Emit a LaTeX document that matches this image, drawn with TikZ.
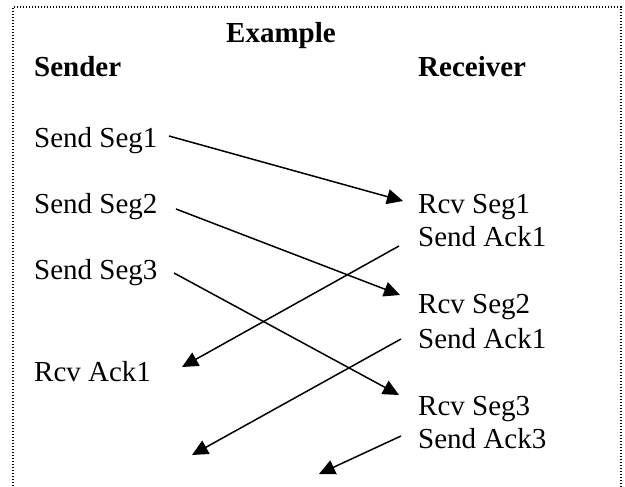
\documentclass[tikz,border=0pt]{standalone}
\usepackage{fontspec}
\setmainfont{Liberation Serif}
\usetikzlibrary{arrows.meta}
\begin{document}
\begin{tikzpicture}[x=1pt,y=-1pt,
  lbl/.style={anchor=base west,inner sep=0pt,font=\fontsize{29}{34}\selectfont},
  hdr/.style={lbl,font=\fontsize{29}{34}\selectfont\bfseries},
  msg/.style={line width=1.5pt,-{Triangle[length=16pt,width=15pt]}},
  frame/.style={line width=1.2pt,dash pattern=on 1.2pt off 1.8pt,black}]
\useasboundingbox (0,0) rectangle (625,487);
\begin{scope}
\clip (0,0) rectangle (625,487);
\draw[frame] (13,495) -- (13,7) -- (621,7) -- (621,495);
\end{scope}
% headings
\node[hdr,anchor=base] (ex) at (281,43) {Example};
\node[hdr] (snd) at (34,77) {Sender};
\node[hdr] (rcv) at (418,77) {Receiver};
% sender column
\node[lbl] (s1) at (34,147) {Send Seg1};
\node[lbl] (s2) at (34,213) {Send Seg2};
\node[lbl] (s3) at (34,279) {Send Seg3};
\node[lbl] (ra1) at (34,381) {Rcv Ack1};
% receiver column
\node[lbl] (r1) at (418,213) {Rcv Seg1};
\node[lbl] (a1) at (418,247) {Send Ack1};
\node[lbl] (r2) at (418,313) {Rcv Seg2};
\node[lbl] (a2) at (418,348) {Send Ack1};
\node[lbl] (r3) at (418,415) {Rcv Seg3};
\node[lbl] (a3) at (418,448) {Send Ack3};
% connector end points
\coordinate (s1o) at (169,136);
\coordinate (r1i) at (403,201);
\coordinate (s2o) at (176,209);
\coordinate (r2i) at (400,295);
\coordinate (s3o) at (174,273);
\coordinate (r3i) at (399,395);
\coordinate (a1o) at (399,246);
\coordinate (ra1i) at (182,367);
\coordinate (a2o) at (401,339);
\coordinate (a2i) at (192,455);
\coordinate (a3o) at (401,436);
\coordinate (a3i) at (319,474);
% connectors
\draw[msg] (s1o) -- (r1i);
\draw[msg] (s2o) -- (r2i);
\draw[msg] (s3o) -- (r3i);
\draw[msg] (a1o) -- (ra1i);
\draw[msg] (a2o) -- (a2i);
\draw[msg] (a3o) -- (a3i);
\end{tikzpicture}
\end{document}
